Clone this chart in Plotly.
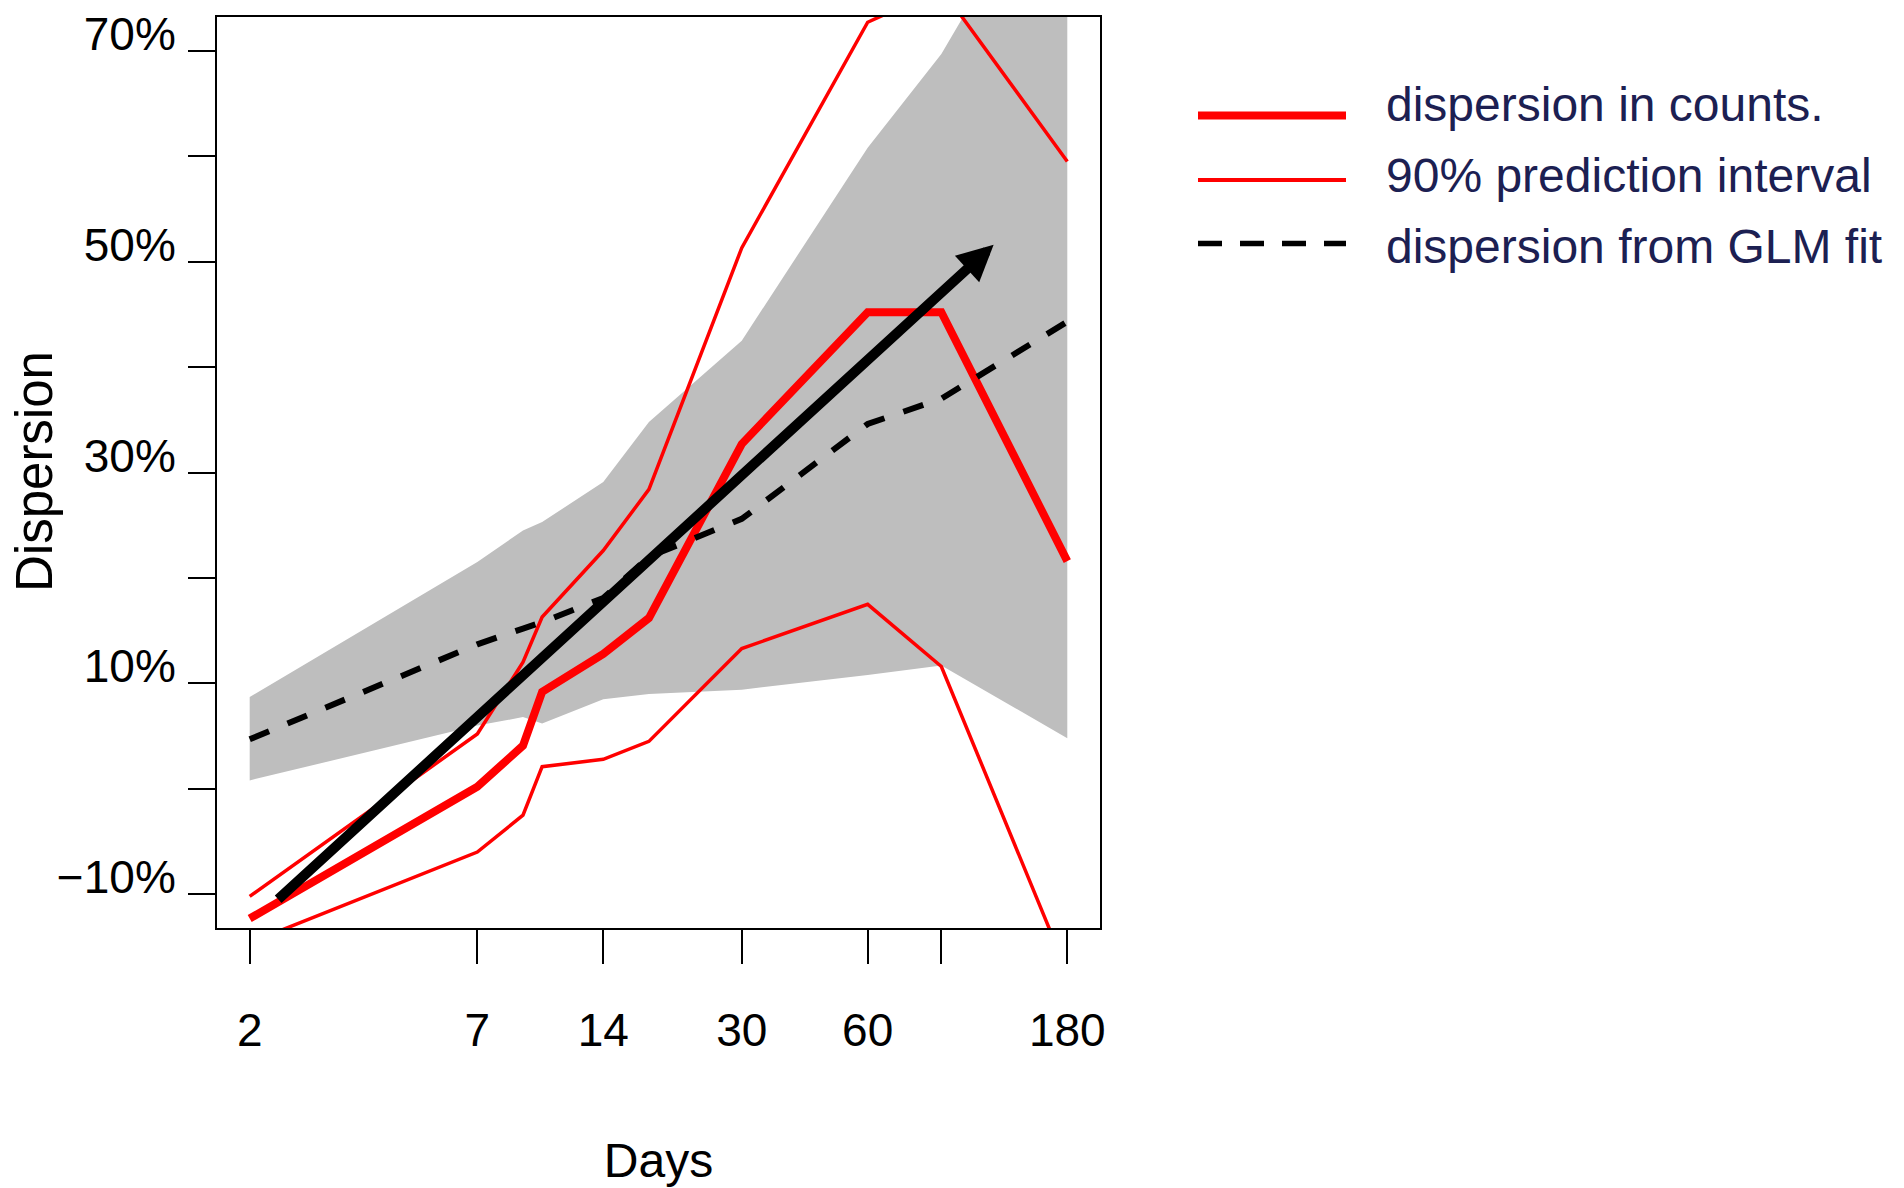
import numpy as np
import plotly.graph_objects as go

# ---------------- data ----------------
days = [2, 7, 9, 10, 14, 18, 30, 60, 90, 180]
dispersion_counts = [-12.3, 0.2, 4.1, 9.2, 12.8, 16.2, 32.7, 45.2, 45.2, 21.6]
pi_upper = [-10.2, 5.2, 12.0, 16.3, 22.6, 28.4, 51.3, 72.7, 75.9, 59.5]
pi_lower = [-14.6, -6.0, -2.5, 2.1, 2.8, 4.5, 13.3, 17.5, 11.6, -17.4]
glm_fit = [4.7, 13.7, 15.2, 15.8, 18.1, 22.0, 25.6, 34.6, 37.0, 44.3]
glm_band_upper = [8.7, 21.5, 24.5, 25.3, 29.1, 34.8, 42.5, 60.8, 69.7, 90.0]
glm_band_lower = [0.8, 6.0, 6.8, 6.2, 8.5, 9.0, 9.4, 10.8, 11.7, 4.8]

trend_arrow_start = [2.32, -10.6]   # (days, %)
trend_arrow_end = [120.0, 51.6]     # (days, %)

x_tick_vals = [2, 7, 14, 30, 60, 90, 180]
x_tick_text = ["2", "7", "14", "30", "60", "", "180"]
y_tick_vals = [-10, 0, 10, 20, 30, 40, 50, 60, 70]
y_tick_text = ["\u221210%", "", "10%", "", "30%", "", "50%", "", "70%"]
y_limits = [-10, 70]

legend_labels = ["dispersion in counts.", "90% prediction interval",
                 "dispersion from GLM fit"]
x_title = "Days"
y_title = "Dispersion"

# ---------------- layout geometry ----------------
W, H = 1904, 1188
PL, PR, PT, PB = 217, 1100, 17, 928          # plot area in pixels
FONT = "Liberation Sans, Arial, sans-serif"
RED = "#ff0000"
GRAY = "#bebebe"
NAVY = "#1c2052"

# R-style 4% range extension
lx = np.log10([min(days), max(days)])
dx = 0.04 * (lx[1] - lx[0])
x_range = [lx[0] - dx, lx[1] + dx]
dy = 0.04 * (y_limits[1] - y_limits[0])
y_range = [y_limits[0] - dy, y_limits[1] + dy]

fig = go.Figure()

fig.add_trace(go.Scatter(x=days, y=glm_band_lower, mode="lines",
                         line=dict(width=0, color=GRAY), showlegend=False,
                         hoverinfo="skip"))
fig.add_trace(go.Scatter(x=days, y=glm_band_upper, mode="lines", fill="tonexty",
                         fillcolor=GRAY, line=dict(width=0, color=GRAY),
                         showlegend=False, hoverinfo="skip"))
fig.add_trace(go.Scatter(x=days, y=pi_upper, mode="lines",
                         line=dict(color=RED, width=3.5), showlegend=False,
                         name=legend_labels[1]))
fig.add_trace(go.Scatter(x=days, y=pi_lower, mode="lines",
                         line=dict(color=RED, width=3.5), showlegend=False,
                         name=legend_labels[1]))
fig.add_trace(go.Scatter(x=days, y=dispersion_counts, mode="lines",
                         line=dict(color=RED, width=8), showlegend=False,
                         name=legend_labels[0]))
fig.add_trace(go.Scatter(x=days, y=glm_fit, mode="lines",
                         line=dict(color="black", width=6, dash="21px,20px"),
                         showlegend=False, name=legend_labels[2]))

# trend arrow
fig.add_annotation(x=np.log10(trend_arrow_end[0]), y=trend_arrow_end[1],
                   ax=np.log10(trend_arrow_start[0]), ay=trend_arrow_start[1],
                   xref="x", yref="y", axref="x", ayref="y", text="",
                   showarrow=True, arrowhead=2, arrowsize=0.72, arrowwidth=10,
                   arrowcolor="black")


def px2paper_x(px):
    return (px - PL) / (PR - PL)


def px2paper_y(py):
    return (PB - py) / (PB - PT)


# manual legend (long line samples as in the original)
leg_line_rows = [115.5, 180, 243.5]
leg_text_rows = [104.5, 175.5, 246]
leg_styles = [dict(color=RED, width=8), dict(color=RED, width=4),
              dict(color="black", width=5.5, dash="24px,18px")]
for lrow, trow, lab, st in zip(leg_line_rows, leg_text_rows, legend_labels,
                               leg_styles):
    fig.add_shape(type="line", xref="paper", yref="paper",
                  x0=px2paper_x(1198), x1=px2paper_x(1346),
                  y0=px2paper_y(lrow), y1=px2paper_y(lrow), line=st)
    fig.add_annotation(xref="paper", yref="paper", x=px2paper_x(1384),
                       y=px2paper_y(trow), xanchor="left", yanchor="middle",
                       text=lab, showarrow=False,
                       font=dict(family=FONT, size=48, color=NAVY))

# y axis title (rotated)
fig.add_annotation(xref="paper", yref="paper", x=px2paper_x(35),
                   y=px2paper_y(472), xanchor="center", yanchor="middle",
                   text=y_title, textangle=-90, showarrow=False,
                   font=dict(family=FONT, size=51, color="black"))

fig.update_layout(
    width=W, height=H,
    margin=dict(l=PL, r=W - PR, t=PT, b=H - PB, autoexpand=False),
    plot_bgcolor="white", paper_bgcolor="white",
    showlegend=False,
    font=dict(family=FONT, color="black"),
    xaxis=dict(type="log", range=x_range, tickvals=x_tick_vals,
               ticktext=x_tick_text, ticks="outside", ticklen=34, tickwidth=2,
               tickcolor="black", showgrid=False, zeroline=False,
               showline=True, linecolor="black", linewidth=2, mirror=True,
               tickfont=dict(family=FONT, size=46, color="black"),
               ticklabelstandoff=27,
               title=dict(text=x_title, standoff=88,
                          font=dict(family=FONT, size=48, color="black"))),
    yaxis=dict(range=y_range, tickvals=y_tick_vals, ticktext=y_tick_text,
               ticks="outside", ticklen=27, tickwidth=2, tickcolor="black",
               showgrid=False, zeroline=False, showline=True,
               linecolor="black", linewidth=2, mirror=True,
               tickfont=dict(family=FONT, size=46, color="black"),
               ticklabelstandoff=3, ticklabelshift=-17),
)

fig.write_html("out.html")
